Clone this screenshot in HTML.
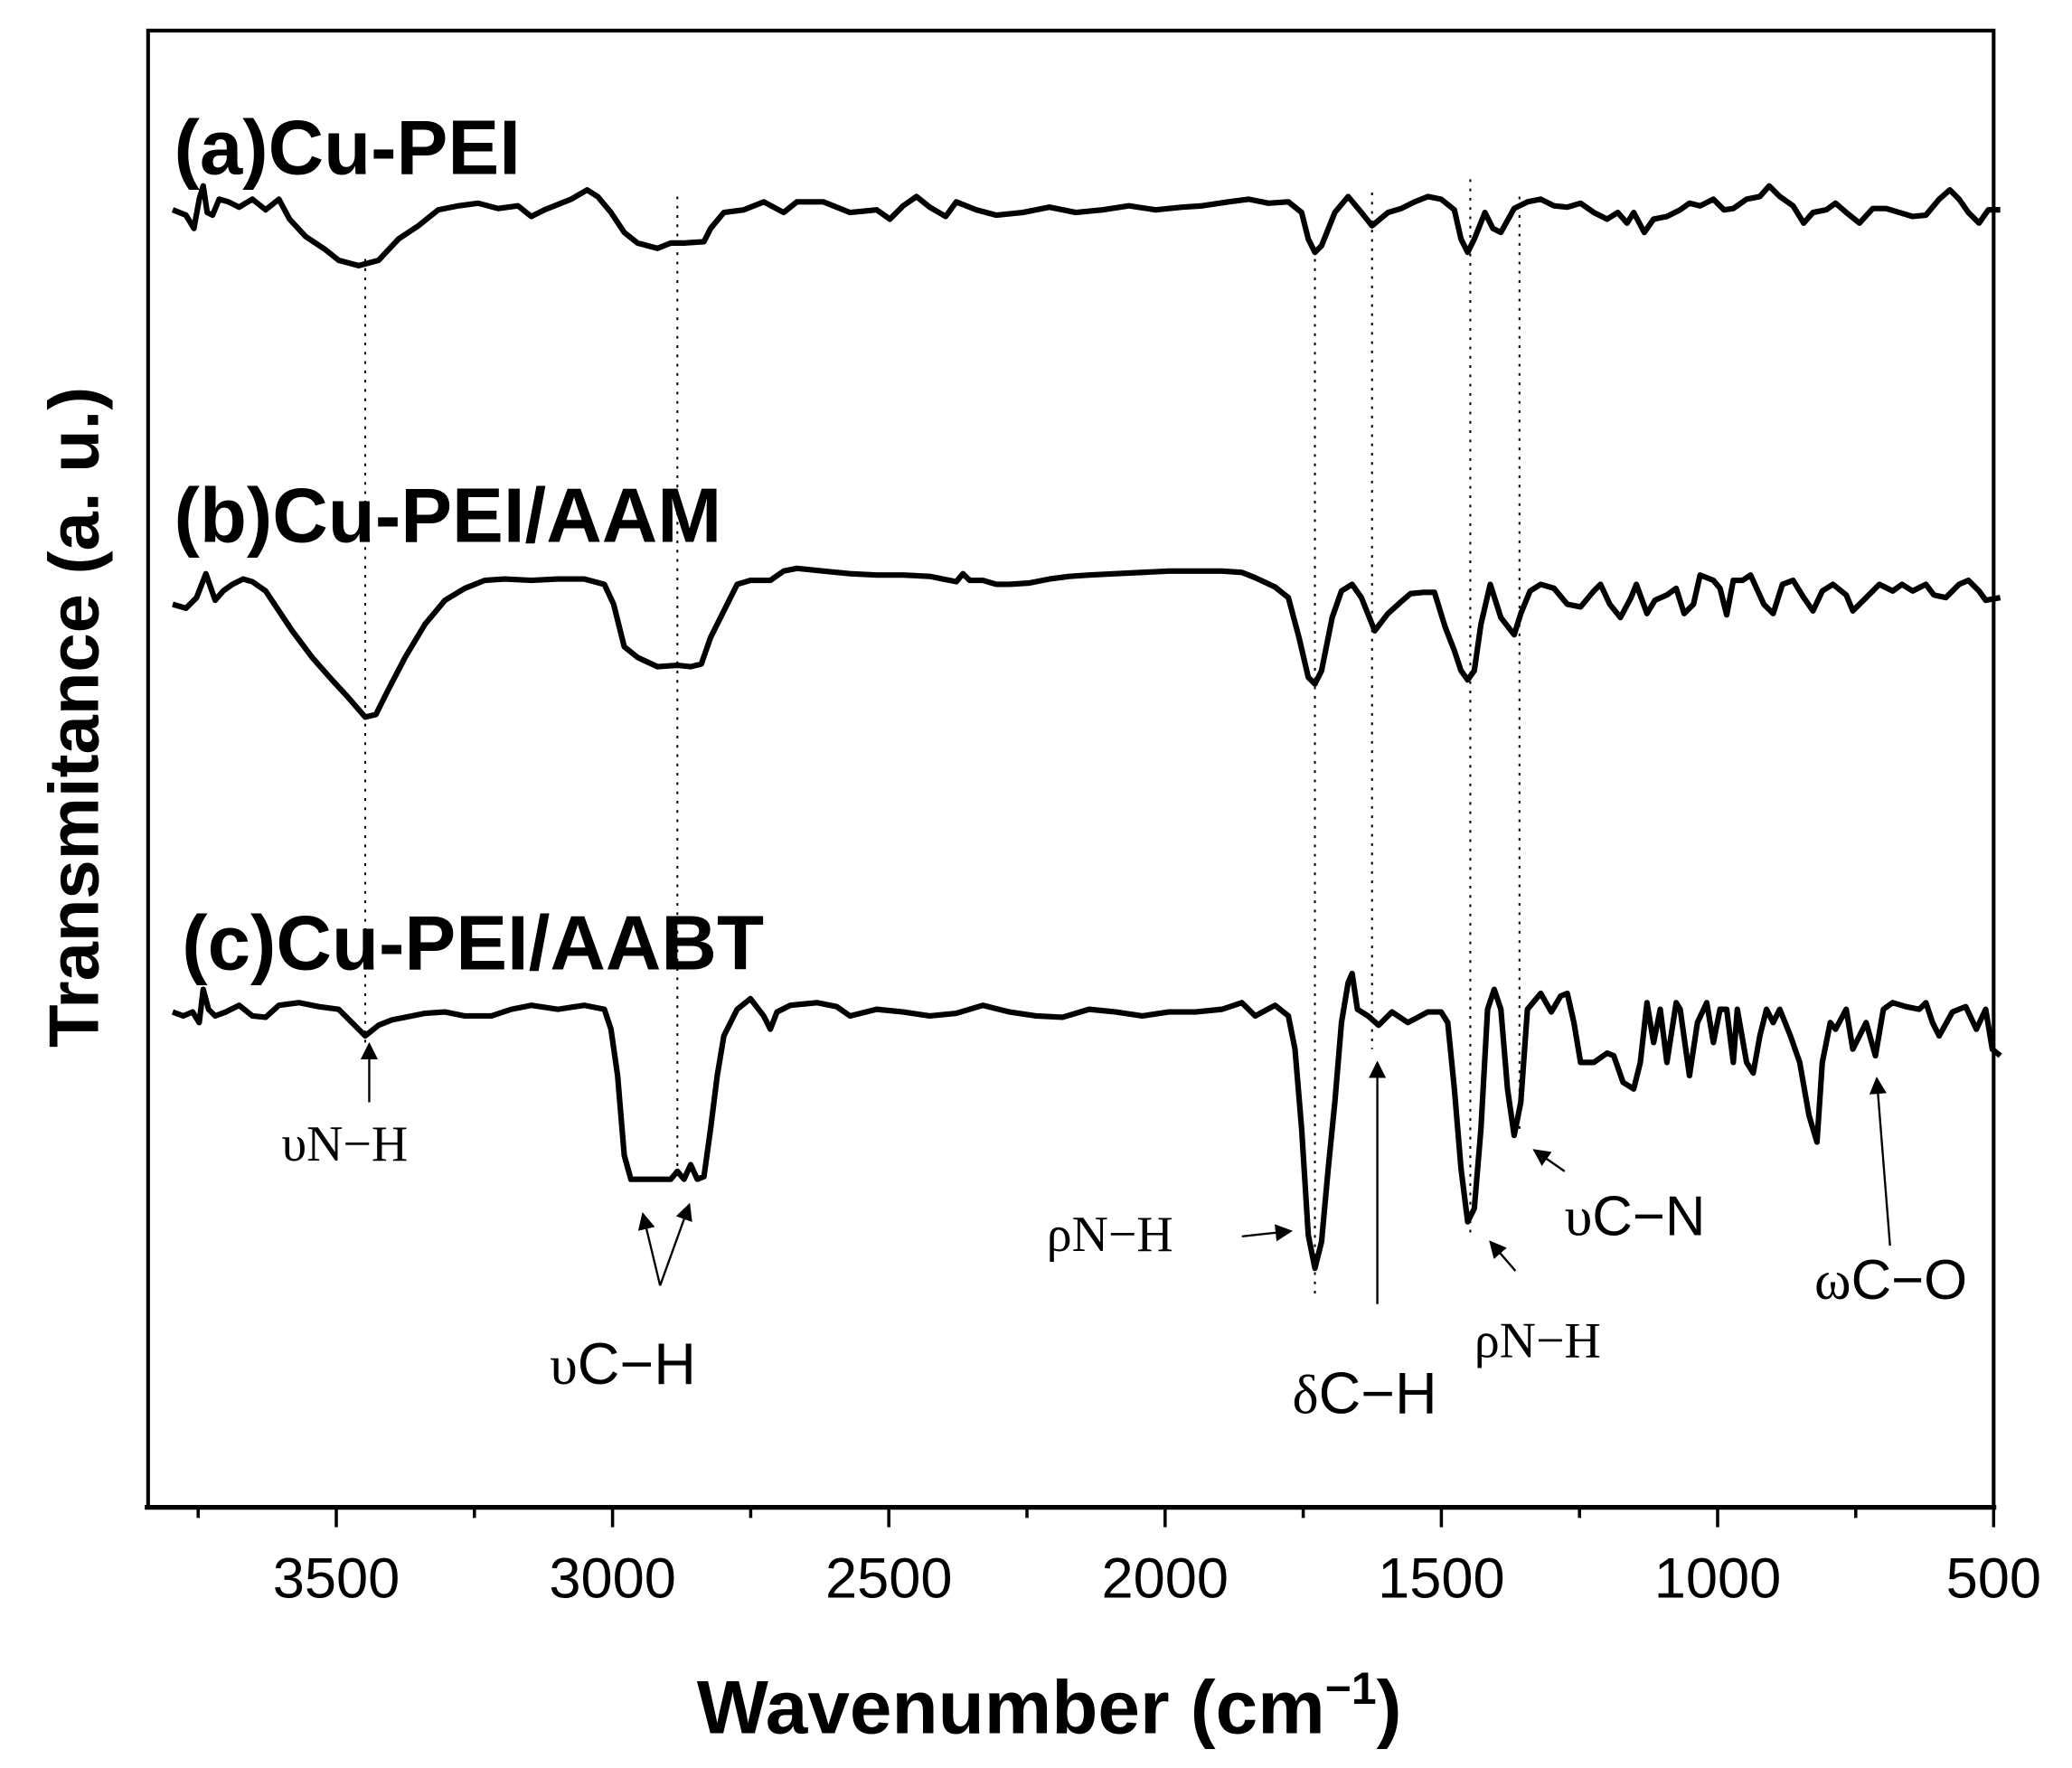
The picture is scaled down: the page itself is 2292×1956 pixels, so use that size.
<!DOCTYPE html>
<html><head><meta charset="utf-8"><style>
html,body{margin:0;padding:0;background:#fff;}
svg{display:block;}
</style></head><body>
<svg width="2292" height="1956" viewBox="0 0 1560 1331.3" xmlns="http://www.w3.org/2000/svg">
<defs>
<marker id="ah" viewBox="0 0 10 10" refX="9" refY="5" markerWidth="9" markerHeight="9" markerUnits="userSpaceOnUse" orient="auto"><path d="M0,0 L10,5 L0,10 z" fill="#000"/></marker>
<marker id="ahb" viewBox="0 0 10 10" refX="9" refY="5" markerWidth="13" markerHeight="13" markerUnits="userSpaceOnUse" orient="auto"><path d="M0,0 L10,5 L0,10 z" fill="#000"/></marker>
</defs>
<path d="M111.5,1135 L111.5,23 L1501,23 L1501,1135 L111.5,1135" fill="none" stroke="#000" stroke-width="2.8"/>
<line x1="109" y1="1135" x2="1503" y2="1135" stroke="#000" stroke-width="3.6"/>
<g stroke="#000" stroke-width="2.4">
<line x1="253.2" y1="1135" x2="253.2" y2="1150"/><line x1="461.2" y1="1135" x2="461.2" y2="1150"/>
<line x1="669.2" y1="1135" x2="669.2" y2="1150"/><line x1="877.2" y1="1135" x2="877.2" y2="1150"/>
<line x1="1085.2" y1="1135" x2="1085.2" y2="1150"/><line x1="1293.2" y1="1135" x2="1293.2" y2="1150"/>
<line x1="1501" y1="1135" x2="1501" y2="1150"/>
<line x1="149.2" y1="1135" x2="149.2" y2="1143"/><line x1="357.2" y1="1135" x2="357.2" y2="1143"/>
<line x1="565.2" y1="1135" x2="565.2" y2="1143"/><line x1="773.2" y1="1135" x2="773.2" y2="1143"/>
<line x1="981.2" y1="1135" x2="981.2" y2="1143"/><line x1="1189.2" y1="1135" x2="1189.2" y2="1143"/>
<line x1="1397.2" y1="1135" x2="1397.2" y2="1143"/>
</g>
<g font-family="Liberation Sans, sans-serif" font-size="43" text-anchor="middle" fill="#000">
<text x="253.2" y="1203">3500</text><text x="461.2" y="1203">3000</text><text x="669.2" y="1203">2500</text>
<text x="877.2" y="1203">2000</text><text x="1085.2" y="1203">1500</text><text x="1293.2" y="1203">1000</text>
<text x="1501" y="1203">500</text>
</g>
<text x="790" y="1305" font-family="Liberation Sans, sans-serif" font-weight="bold" font-size="57" text-anchor="middle">Wavenumber (cm<tspan dy="-22" font-size="34">−1</tspan><tspan dy="22">)</tspan></text>
<text transform="translate(74,540) rotate(-90)" font-family="Liberation Sans, sans-serif" font-weight="bold" font-size="53" text-anchor="middle">Transmitance (a. u.)</text>
<g stroke="#000" stroke-width="1.4" stroke-dasharray="2,5">
<line x1="275" y1="195" x2="275" y2="790"/><line x1="510" y1="148" x2="510" y2="890"/>
<line x1="990" y1="195" x2="990" y2="975"/><line x1="1033" y1="145" x2="1033" y2="790"/>
<line x1="1107" y1="135" x2="1107" y2="930"/><line x1="1144" y1="148" x2="1144" y2="850"/>
</g>
<g font-family="Liberation Sans, sans-serif" font-weight="bold" font-size="58">
<text x="131" y="131">(a)Cu-PEI</text>
<text x="131" y="408">(b)Cu-PEI/AAM</text>
<text x="137" y="730">(c)Cu-PEI/AABT</text>
</g>
<g fill="none" stroke="#000" stroke-width="4.2" stroke-linejoin="round">
<polyline points="130,158 140,162 146,172 150,150 153,140 156,160 160,162 165,150 172,152 180,156 190,150 200,158 210,150 218,165 230,178 245,188 255,196 270,200 285,196 300,180 315,170 330,158 345,155 360,153 375,157 390,155 400,163 410,158 420,154 430,150 442,143 450,148 460,160 470,175 480,183 495,187 505,183 515,183 530,182 535,172 545,160 560,158 575,152 590,160 600,152 620,152 640,160 660,158 670,165 680,155 690,148 700,156 712,163 720,152 735,158 750,162 770,160 790,156 810,160 830,158 850,155 870,158 890,156 905,155 925,152 940,150 955,153 970,152 980,160 985,180 990,190 995,185 1005,160 1015,148 1025,160 1033,170 1045,160 1055,157 1065,152 1075,148 1085,150 1095,158 1100,180 1105,190 1110,180 1118,160 1124,172 1130,175 1140,157 1150,152 1160,150 1170,155 1180,156 1190,153 1200,160 1210,165 1218,160 1225,168 1230,160 1238,175 1245,165 1255,163 1265,158 1272,153 1280,155 1290,150 1298,158 1305,157 1315,150 1325,148 1332,140 1340,148 1350,155 1358,168 1365,160 1375,158 1382,153 1390,160 1400,168 1410,157 1420,157 1430,160 1440,163 1450,162 1460,150 1468,143 1475,150 1482,160 1490,168 1497,158 1506,158"/>
<polyline points="130,455 140,458 148,450 155,432 162,452 168,445 175,440 183,436 190,438 200,445 210,460 220,475 235,495 250,512 262,525 275,540 283,538 292,520 305,495 320,470 335,452 350,443 365,437 380,436 400,437 420,436 440,436 455,440 462,455 470,487 480,495 495,502 510,501 520,502 528,500 535,480 545,460 555,440 565,437 580,437 590,430 600,428 620,430 640,432 660,433 680,433 700,434 710,436 720,438 725,432 730,437 740,437 750,440 760,440 775,439 790,436 805,434 820,433 840,432 860,431 880,430 900,430 920,430 935,431 945,435 960,442 970,450 978,480 985,510 990,515 995,505 1003,465 1010,445 1018,440 1025,450 1035,475 1045,462 1055,453 1062,447 1072,446 1080,446 1088,472 1095,490 1100,505 1105,512 1110,505 1115,470 1122,440 1130,465 1140,478 1145,462 1152,445 1160,440 1170,443 1180,455 1190,457 1200,445 1205,440 1212,455 1220,465 1228,450 1232,440 1240,462 1246,452 1255,448 1262,443 1268,462 1275,455 1280,433 1290,437 1295,443 1300,463 1305,437 1312,437 1318,433 1328,455 1335,462 1342,440 1350,437 1358,450 1365,460 1372,445 1380,440 1390,448 1395,460 1405,450 1415,440 1425,445 1432,440 1440,445 1450,440 1456,448 1465,450 1475,440 1482,437 1490,445 1495,452 1506,450"/>
<polyline points="130,762 138,765 145,762 150,770 153,745 157,760 162,765 170,762 180,757 190,765 200,766 210,757 225,755 240,758 255,760 265,770 275,780 285,772 295,768 310,765 320,763 335,762 350,765 370,765 385,760 400,757 420,760 440,757 455,760 460,775 465,810 470,870 475,888 490,888 505,888 510,882 515,888 520,877 525,888 530,886 535,850 540,810 545,780 555,760 565,752 575,765 580,775 585,762 595,757 615,755 630,758 640,765 660,760 680,762 700,765 720,763 740,757 760,762 780,765 800,766 820,760 840,762 860,765 880,762 900,762 920,760 935,755 945,765 960,757 970,765 975,790 980,850 985,930 990,955 995,935 1000,880 1005,830 1010,770 1015,740 1018,733 1022,760 1030,765 1038,772 1048,762 1060,770 1075,762 1085,762 1090,770 1095,820 1100,880 1105,920 1110,910 1115,850 1120,760 1125,745 1130,760 1135,820 1140,855 1145,830 1150,760 1160,748 1168,762 1175,750 1180,748 1185,770 1190,800 1200,800 1210,793 1215,795 1222,815 1230,820 1235,800 1240,755 1245,785 1250,760 1255,800 1262,755 1265,760 1272,810 1278,770 1285,755 1290,785 1295,760 1300,760 1305,800 1308,760 1315,800 1320,808 1325,780 1330,760 1335,770 1340,760 1348,780 1355,800 1362,840 1368,860 1372,800 1378,770 1382,775 1390,760 1395,790 1400,780 1405,770 1412,795 1418,760 1425,755 1435,758 1445,760 1450,755 1455,770 1460,780 1470,762 1480,758 1488,775 1495,760 1500,790 1506,795"/>
</g>
<g stroke="#000" stroke-width="1.6" fill="none">
<line x1="278" y1="830" x2="278" y2="786" marker-end="url(#ahb)"/>
<line x1="497" y1="968" x2="484" y2="914" marker-end="url(#ahb)"/>
<line x1="497" y1="968" x2="519" y2="907" marker-end="url(#ahb)"/>
<line x1="935" y1="931" x2="972" y2="927" marker-end="url(#ahb)"/>
<line x1="1037" y1="982" x2="1037" y2="800" marker-end="url(#ahb)"/>
<line x1="1141" y1="957" x2="1122" y2="935" marker-end="url(#ahb)"/>
<line x1="1178" y1="882" x2="1155" y2="866" marker-end="url(#ahb)"/>
<line x1="1423" y1="938" x2="1413" y2="812" marker-end="url(#ahb)"/>
</g>
<g fill="#000">
<text x="212" y="874" font-family="Liberation Serif, serif" font-size="38">υN−H</text>
<text x="414" y="1042" font-family="Liberation Serif, serif" font-size="42">υ<tspan font-family="Liberation Sans, sans-serif" font-size="44">C−H</tspan></text>
<text x="788" y="942" font-family="Liberation Serif, serif" font-size="38">ρN−H</text>
<text x="973" y="1064" font-family="Liberation Serif, serif" font-size="42">δ<tspan font-family="Liberation Sans, sans-serif" font-size="44">C−H</tspan></text>
<text x="1110" y="1022" font-family="Liberation Serif, serif" font-size="38">ρN−H</text>
<text x="1178" y="930" font-family="Liberation Serif, serif" font-size="42">υ<tspan font-family="Liberation Sans, sans-serif" font-size="42">C−N</tspan></text>
<text x="1366" y="978" font-family="Liberation Serif, serif" font-size="42">ω<tspan font-family="Liberation Sans, sans-serif" font-size="42">C−O</tspan></text>
</g>
</svg>
</body></html>
